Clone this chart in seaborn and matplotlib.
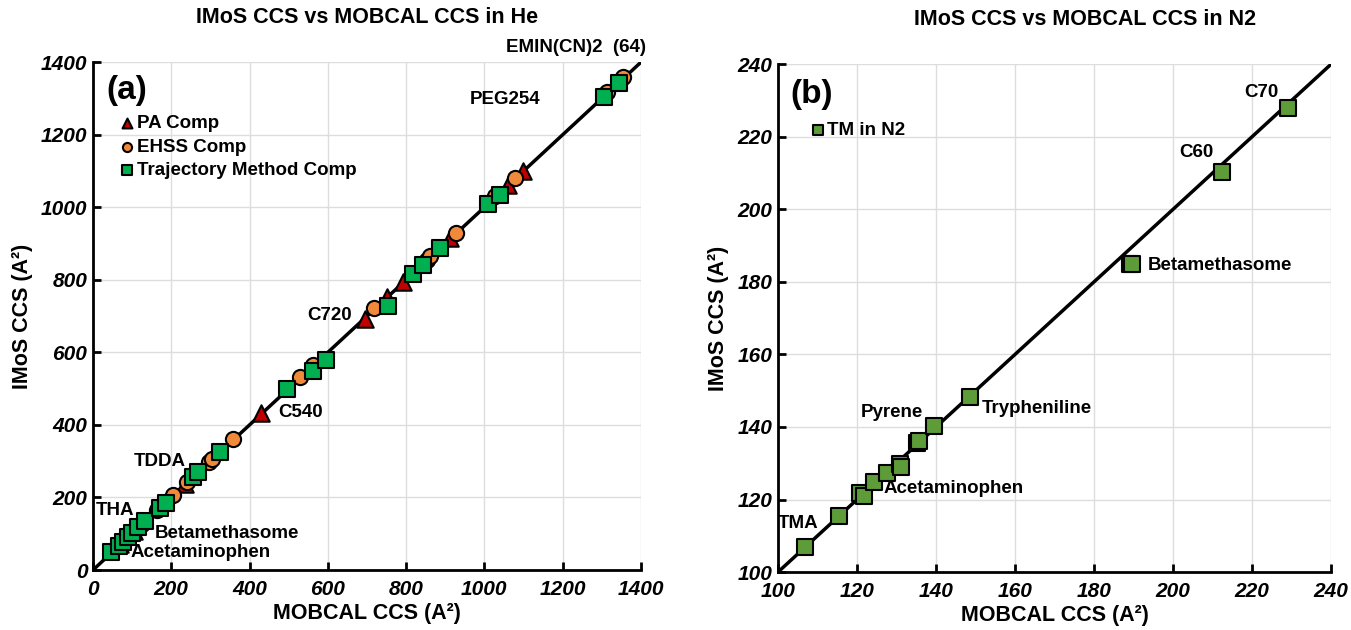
import numpy as np
import pandas as pd
import matplotlib
matplotlib.use("Agg")
import matplotlib.pyplot as plt
import seaborn as sns

# ---- data: panel (a), He ----
pa_mobcal = [70, 105, 235, 429, 695, 751, 792, 912, 1060, 1098]
pa_imos = [72, 107, 238, 433, 692, 752, 793, 915, 1062, 1100]

ehss_mobcal = [95, 125, 163, 204, 240, 296, 304, 358, 529, 562, 718, 853, 862, 927, 1027, 1078, 1313, 1354]
ehss_imos = [97, 128, 166, 208, 242, 298, 307, 362, 532, 566, 722, 856, 866, 928, 1030, 1080, 1318, 1360]

tm_mobcal = [46, 66, 77, 89, 100, 115, 133, 171, 187, 256, 268, 324, 496, 562, 595, 754, 818, 843, 887, 1010, 1040, 1305, 1344]
tm_imos = [50, 66, 78, 91, 102, 118, 135, 171, 185, 256, 270, 325, 500, 548, 580, 728, 815, 840, 888, 1010, 1035, 1305, 1342]

# ---- data: panel (b), N2 ----
n2_mobcal = [106.8, 115.4, 120.8, 121.8, 124.3, 127.6, 130.9, 131.1, 135.2, 135.6, 139.5, 148.6, 189.1, 189.5, 212.4, 229.1]
n2_imos = [107.0, 115.5, 121.9, 120.9, 124.8, 127.4, 129.8, 128.9, 135.7, 136.1, 140.3, 148.3, 184.9, 185.0, 210.2, 228.0]

labels_a = [("EMIN(CN)2  (64)", 1235, 1440, "center"), ("PEG254", 1052, 1298, "center"),
            ("C720", 605, 703, "center"), ("C540", 473, 433, "left"),
            ("TDDA", 171, 298, "center"), ("THA", 56, 165, "center"),
            ("Betamethasome", 158, 102, "left"), ("Acetaminophen", 95, 47, "left")]
labels_b = [("C70", 222.3, 232.2, "center"), ("C60", 205.8, 215.7, "center"),
            ("Betamethasome", 193.7, 184.6, "left"), ("Trypheniline", 151.6, 145.2, "left"),
            ("Pyrene", 128.9, 144.1, "center"), ("Acetaminophen", 126.8, 122.9, "left"),
            ("TMA", 105.1, 113.5, "center")]

sns.set_theme(style="whitegrid")
plt.rcParams['font.family'] = ['Liberation Sans', 'DejaVu Sans']
plt.rcParams['text.color'] = 'black'
plt.rcParams['axes.labelcolor'] = 'black'
plt.rcParams['xtick.color'] = 'black'
plt.rcParams['ytick.color'] = 'black'

fig = plt.figure(figsize=(13.51, 6.3), dpi=100)
ax1 = fig.add_axes([0.0688, 0.0952, 0.4056, 0.806])
ax2 = fig.add_axes([0.5759, 0.092, 0.4093, 0.806])

green_a = "#00B050"
orange = "#F08A3A"
red = "#C00000"
green_b = "#5E9C3A"

# panel (a)
sns.lineplot(x=[0, 1400], y=[0, 1400], ax=ax1, color="black", lw=2.5, zorder=2)
sns.scatterplot(x=pa_mobcal, y=pa_imos, ax=ax1, marker="^", s=140, color=red,
                edgecolor="black", linewidth=1.5, label="PA Comp", zorder=3)
sns.scatterplot(x=ehss_mobcal, y=ehss_imos, ax=ax1, marker="o", s=120, color=orange,
                edgecolor="black", linewidth=1.5, label="EHSS Comp", zorder=4)
sns.scatterplot(x=tm_mobcal, y=tm_imos, ax=ax1, marker="s", s=120, color=green_a,
                edgecolor="black", linewidth=1.5, label="Trajectory Method Comp", zorder=5)
ax1.set_xlim(0, 1400)
ax1.set_ylim(0, 1400)
ax1.set_xticks(np.arange(0, 1401, 200))
ax1.set_yticks(np.arange(0, 1401, 200))
for txt, x, y, ha in labels_a:
    ax1.text(x, y, txt, ha=ha, va="center", fontsize=13.5, fontweight="bold", clip_on=False)
ax1.text(0.025, 0.945, "(a)", transform=ax1.transAxes, fontsize=24, fontweight="bold", va="center")
ax1.legend(loc="upper left", bbox_to_anchor=(0.035, 0.915), frameon=False, handlelength=0.6,
           handletextpad=0.2, labelspacing=0.35, markerscale=0.6, borderpad=0,
           prop={"weight": "bold", "size": 13.5})
ax1.set_title("IMoS CCS vs MOBCAL CCS in He", fontsize=15.5, fontweight="bold", pad=28)

# panel (b)
sns.lineplot(x=[100, 240], y=[100, 240], ax=ax2, color="black", lw=2.5, zorder=2)
sns.scatterplot(x=n2_mobcal, y=n2_imos, ax=ax2, marker="s", s=130, color=green_b,
                edgecolor="black", linewidth=1.5, label="TM in N2", zorder=5)
ax2.set_xlim(100, 240)
ax2.set_ylim(100, 240)
ax2.set_xticks(np.arange(100, 241, 20))
ax2.set_yticks(np.arange(100, 241, 20))
for txt, x, y, ha in labels_b:
    ax2.text(x, y, txt, ha=ha, va="center", fontsize=13.5, fontweight="bold")
ax2.text(0.022, 0.94, "(b)", transform=ax2.transAxes, fontsize=24, fontweight="bold", va="center")
ax2.legend(loc="upper left", bbox_to_anchor=(0.045, 0.905), frameon=False, handlelength=0.6,
           handletextpad=0.2, markerscale=0.6, borderpad=0,
           prop={"weight": "bold", "size": 13.5})
ax2.set_title("IMoS CCS vs MOBCAL CCS in N2", fontsize=15.5, fontweight="bold", pad=28, x=0.556)

for ax in (ax1, ax2):
    ax.grid(True, color="#DDDDDD", lw=1)
    ax.set_facecolor("white")
    for side in ("top", "right"):
        ax.spines[side].set_visible(False)
    for side in ("left", "bottom"):
        ax.spines[side].set_color("black")
        ax.spines[side].set_linewidth(2)
    ax.tick_params(direction="in", length=6, width=2, color="black", labelsize=15, pad=4,
                   left=True, bottom=True)
    ax.tick_params(axis="x", pad=7)
    for lab in ax.get_xticklabels() + ax.get_yticklabels():
        lab.set_fontweight("bold")
        lab.set_fontstyle("italic")
    ax.set_xlabel("MOBCAL CCS (A²)", fontsize=15.5, fontweight="bold", labelpad=3)
    ax.set_ylabel("IMoS CCS (A²)", fontsize=15.5, fontweight="bold", labelpad=6)

fig.savefig("out.png", dpi=100)
